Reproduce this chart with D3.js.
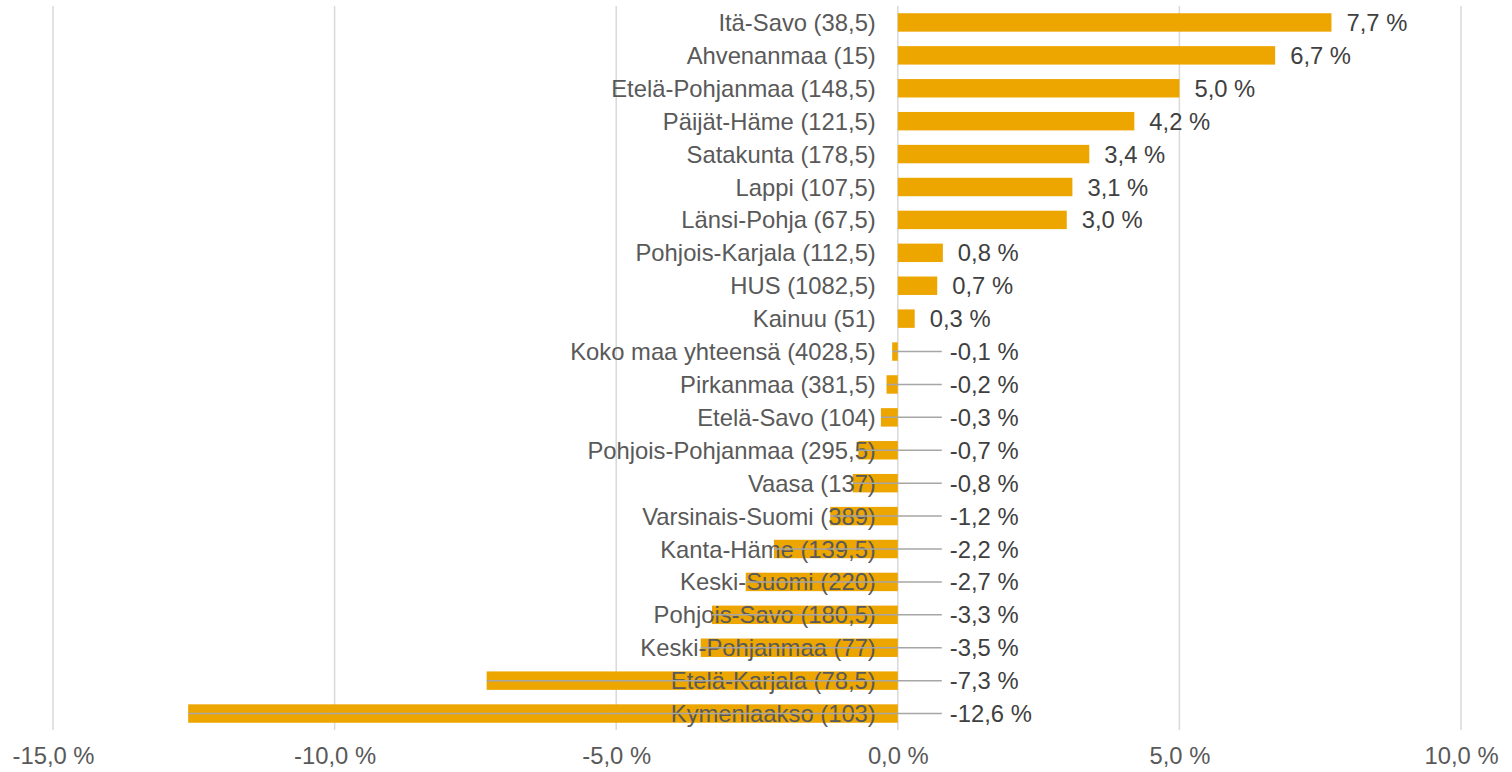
<!DOCTYPE html>
<html>
<head>
<meta charset="utf-8">
<script src="https://cdn.jsdelivr.net/npm/d3@7"></script>
<style>
  body { margin: 0; background: #fff; }
  text { font-family: "Liberation Sans", Arial, sans-serif; }
</style>
</head>
<body>
<svg id="chart"></svg>
<script>
// region labels (with counts) top to bottom
var regions = [
  "Itä-Savo (38,5)", "Ahvenanmaa (15)", "Etelä-Pohjanmaa (148,5)", "Päijät-Häme (121,5)",
  "Satakunta (178,5)", "Lappi (107,5)", "Länsi-Pohja (67,5)", "Pohjois-Karjala (112,5)",
  "HUS (1082,5)", "Kainuu (51)", "Koko maa yhteensä (4028,5)", "Pirkanmaa (381,5)",
  "Etelä-Savo (104)", "Pohjois-Pohjanmaa (295,5)", "Vaasa (137)", "Varsinais-Suomi (389)",
  "Kanta-Häme (139,5)", "Keski-Suomi (220)", "Pohjois-Savo (180,5)", "Keski-Pohjanmaa (77)",
  "Etelä-Karjala (78,5)", "Kymenlaakso (103)"
];

// change in percent
var change = [
  7.7, 6.7, 5.0, 4.2, 3.4, 3.1, 3.0, 0.8, 0.7, 0.3, -0.1,
  -0.2, -0.3, -0.7, -0.8, -1.2, -2.2, -2.7, -3.3, -3.5, -7.3, -12.6
];

// x axis ticks
var xTicks = [-15, -10, -5, 0, 5, 10];

var width = 1512, height = 772;
var plotTop = 6, plotBottom = 730;
var fontSize = "23.8px";

var fi = d3.formatLocale({decimal: ",", thousands: " ", grouping: [3], currency: ["", " €"], minus: "-"});
var fmt = fi.format(".1f");
function pct(v) { return fmt(v) + " %"; }

var data = regions.map(function(r, i) { return {name: r, value: change[i]}; });

var svg = d3.select("#chart")
    .attr("width", width)
    .attr("height", height);

var xScale = d3.scaleLinear().domain([-15, 10]).range([53, 1461]);
var yScale = d3.scaleBand()
    .domain(regions)
    .range([plotTop, plotBottom])
    .paddingInner(0.44)
    .paddingOuter(0.22);

// gridlines
svg.append("g").selectAll("line")
    .data(xTicks)
  .enter().append("line")
    .attr("x1", function(d) { return xScale(d); })
    .attr("x2", function(d) { return xScale(d); })
    .attr("y1", plotTop)
    .attr("y2", plotBottom)
    .style("stroke", "#d9d9d9")
    .style("stroke-width", 1.5);

// x axis labels
var xAxis = svg.append("g")
    .attr("transform", "translate(0," + plotBottom + ")")
    .call(d3.axisBottom(xScale).tickValues(xTicks).tickSize(0).tickPadding(0).tickFormat(pct));
xAxis.select(".domain").remove();
xAxis.selectAll("text")
    .attr("y", 34)
    .attr("dy", 0)
    .style("font-family", '"Liberation Sans", Arial, sans-serif')
    .style("font-size", fontSize)
    .style("fill", "#595959");

// bars
svg.append("g").selectAll("rect")
    .data(data)
  .enter().append("rect")
    .attr("x", function(d) { return xScale(Math.min(0, d.value)); })
    .attr("y", function(d) { return yScale(d.name); })
    .attr("width", function(d) { return Math.abs(xScale(d.value) - xScale(0)); })
    .attr("height", yScale.bandwidth())
    .style("fill", "#eda500");

// category labels
svg.append("g").selectAll("text")
    .data(data)
  .enter().append("text")
    .attr("x", xScale(0) - 22)
    .attr("y", function(d) { return yScale(d.name) + yScale.bandwidth() / 2; })
    .attr("dy", "0.36em")
    .attr("text-anchor", "end")
    .style("font-size", fontSize)
    .style("fill", "#595959")
    .text(function(d) { return d.name; });

// leader lines for negative values
var neg = data.filter(function(d) { return d.value < 0; });
svg.append("g").selectAll("line")
    .data(neg)
  .enter().append("line")
    .attr("x1", function(d) { return xScale(d.value); })
    .attr("x2", xScale(0) + 44)
    .attr("y1", function(d) { return yScale(d.name) + yScale.bandwidth() / 2; })
    .attr("y2", function(d) { return yScale(d.name) + yScale.bandwidth() / 2; })
    .style("stroke", "#a6a6a6")
    .style("stroke-width", 1.5);

// value labels
svg.append("g").selectAll("text")
    .data(data)
  .enter().append("text")
    .attr("x", function(d) { return d.value >= 0 ? xScale(d.value) + 15 : xScale(0) + 52; })
    .attr("y", function(d) { return yScale(d.name) + yScale.bandwidth() / 2; })
    .attr("dy", "0.36em")
    .style("font-size", fontSize)
    .style("fill", "#404040")
    .text(function(d) { return pct(d.value); });
</script>
</body>
</html>
